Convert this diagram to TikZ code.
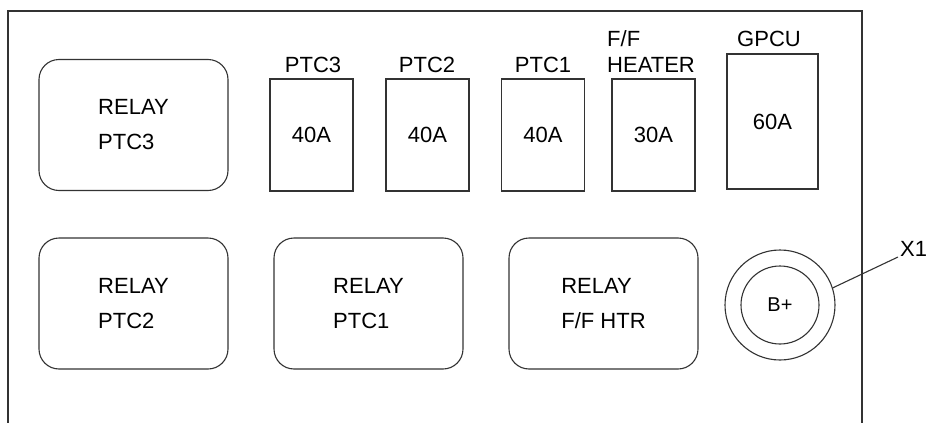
\documentclass[tikz,border=0pt]{standalone}
\usepackage{fontspec}
\setmainfont{Liberation Sans}
\begin{document}
\begin{tikzpicture}[x=1pt,y=-1pt,
  ln/.style={draw=black!80,line width=1.1pt},
  relay/.style={ln,rectangle,rounded corners=20pt,minimum width=189pt,minimum height=131pt,inner sep=0pt,align=left,font=\fontsize{22}{35}\selectfont},
  fuse/.style={ln,rectangle,minimum width=83pt,minimum height=112pt,inner sep=0pt,font=\fontsize{22}{26}\selectfont},
  lbl/.style={inner sep=0pt,font=\fontsize{22}{26}\selectfont,align=left}]
\useasboundingbox (0,0) rectangle (929,423);
\fill[white] (0,0) rectangle (929,423);
% frame
\draw[ln] (8,423) -- (8,11) -- (862,11) -- (862,423);
% relays
\node[relay] (r3) at (133.5,125) {RELAY\\PTC3};
\node[relay] (r2) at (133.5,303.5) {RELAY\\PTC2};
\node[relay] (r1) at (368.5,303.5) {RELAY\\PTC1};
\node[relay] (rf) at (603.5,303.5) {RELAY\\F/F HTR};
% fuses
\node[fuse] (f3) at (311.5,135) {40A};
\node[fuse] (f2) at (427.5,135) {40A};
\node[fuse] (f1) at (543,135) {40A};
\node[fuse] (ff) at (653.5,135) {30A};
\node[fuse,minimum width=91pt,minimum height=135pt] (fg) at (772.5,121.5) {60A};
% fuse labels
\node[lbl] (l3) at (313,65) {PTC3};
\node[lbl] (l2) at (427,65) {PTC2};
\node[lbl] (l1) at (543,65) {PTC1};
\node[lbl,anchor=north west] (lf) at (607,30) {F/F\\HEATER};
\node[lbl] (lg) at (769,39) {GPCU};
% B+ terminal
\node[ln,circle,minimum size=110pt,inner sep=0pt] (outer) at (780,305) {};
\node[ln,circle,minimum size=78pt,inner sep=0pt,font=\fontsize{20}{24}\selectfont] (inner) at (780,305) {B+};
\coordinate (lead) at (898,257);
\node[lbl,anchor=west] (x1) at (900,249) {X1};
\draw[ln] (outer.18) -- (lead);
\end{tikzpicture}
\end{document}
